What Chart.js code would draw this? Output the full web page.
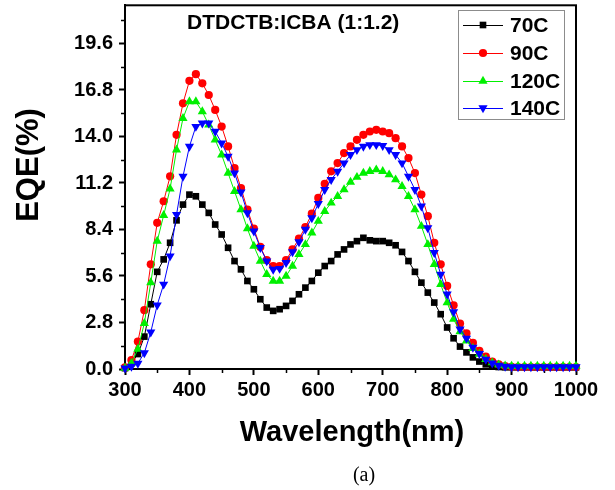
<!DOCTYPE html>
<html>
<head>
<meta charset="utf-8">
<title>EQE spectra</title>
<script src="https://cdn.jsdelivr.net/npm/chart.js@4.4.1/dist/chart.umd.min.js"></script>
<style>
  html, body { margin: 0; padding: 0; background: #fff; }
  canvas { display: block; }
</style>
</head>
<body>
<canvas id="eqe" width="615" height="490"></canvas>
<script>
// Wavelength grid (nm)
const wavelengths = [
  300, 310, 320, 330, 340, 350, 360, 370, 380, 390,
  400, 410, 420, 430, 440, 450, 460, 470, 480, 490,
  500, 510, 520, 530, 540, 550, 560, 570, 580, 590,
  600, 610, 620, 630, 640, 650, 660, 670, 680, 690,
  700, 710, 720, 730, 740, 750, 760, 770, 780, 790,
  800, 810, 820, 830, 840, 850, 860, 870, 880, 890,
  900, 910, 920, 930, 940, 950, 960, 970, 980, 990,
  1000
];

// EQE (%) for each annealing temperature
const eqe70C = [
  0.05, 0.35, 0.9, 1.95, 3.9, 5.85, 6.6, 7.6, 8.95, 9.9,
  10.5, 10.4, 9.9, 9.4, 8.7, 8.1, 7.3, 6.5, 6.0, 5.3,
  4.8, 4.2, 3.7, 3.5, 3.6, 3.8, 4.1, 4.5, 4.9, 5.3,
  5.8, 6.2, 6.5, 6.9, 7.2, 7.5, 7.7, 7.9, 7.75, 7.7,
  7.7, 7.6, 7.45, 7.05, 6.5, 5.85, 5.2, 4.6, 4.0, 3.3,
  2.5, 1.85, 1.35, 1.0, 0.7, 0.45, 0.28, 0.18, 0.12, 0.1,
  0.1, 0.1, 0.1, 0.1, 0.1, 0.1, 0.1, 0.1, 0.1, 0.1,
  0.1
];
const eqe90C = [
  0.1, 0.54, 1.65, 3.54, 6.3, 8.8, 10.1, 11.6, 14.1, 16.0,
  17.35, 17.75, 17.2, 16.5, 15.6, 14.6, 13.4, 12.1, 10.9, 9.6,
  8.45, 7.35, 6.55, 6.2, 6.2, 6.55, 7.2, 7.85, 8.55, 9.35,
  10.3, 11.15, 11.9, 12.4, 13.0, 13.4, 13.8, 14.1, 14.3, 14.4,
  14.3, 14.2, 13.9, 13.4, 12.7, 11.8, 10.5, 9.2, 7.6, 6.3,
  5.0, 3.84, 2.74, 2.15, 1.58, 1.1, 0.74, 0.45, 0.28, 0.18,
  0.13, 0.12, 0.12, 0.12, 0.12, 0.12, 0.12, 0.12, 0.12, 0.12,
  0.12
];
const eqe120C = [
  0.05, 0.35, 1.2, 2.75, 5.2, 7.7, 9.25, 10.85, 13.2, 15.1,
  16.1, 16.1, 15.5, 14.7, 13.8, 12.9, 11.8, 10.7, 9.6, 8.45,
  7.4, 6.5, 5.7, 5.3, 5.3, 5.6, 6.2, 6.9, 7.5, 8.2,
  8.9, 9.5, 10.0, 10.4, 10.8, 11.25, 11.55, 11.8, 11.9, 12.0,
  11.9, 11.7, 11.4, 11.0, 10.4, 9.6, 8.6, 7.5, 6.3, 5.1,
  4.0, 3.0, 2.25, 1.7, 1.25, 0.9, 0.58, 0.38, 0.26, 0.2,
  0.18, 0.18, 0.18, 0.18, 0.18, 0.18, 0.18, 0.18, 0.18, 0.18,
  0.18
];
const eqe140C = [
  0.05, 0.15, 0.34, 0.97, 2.22, 3.85, 5.1, 6.8, 9.3, 11.6,
  13.4, 14.6, 14.8, 14.8, 14.3, 13.6, 12.8, 11.8, 10.65, 9.4,
  8.3, 7.3, 6.5, 6.0, 6.05, 6.4, 7.05, 7.65, 8.4, 9.1,
  9.95, 10.8, 11.4, 11.9, 12.4, 12.9, 13.2, 13.4, 13.5, 13.5,
  13.45, 13.2, 12.9, 12.4, 11.6, 10.8, 9.8, 8.5, 7.0, 5.7,
  4.5, 3.44, 2.4, 1.85, 1.3, 0.92, 0.58, 0.35, 0.22, 0.16,
  0.13, 0.13, 0.13, 0.13, 0.13, 0.13, 0.13, 0.13, 0.13, 0.13,
  0.13
];

const seriesNames = ['70C', '90C', '120C', '140C'];
const seriesValues = [eqe70C, eqe90C, eqe120C, eqe140C];

// Axis ticks
const xMajorTicks = [300, 400, 500, 600, 700, 800, 900, 1000];
const xMinorTicks = [350, 450, 550, 650, 750, 850, 950];
const yMajorTicks = [0, 2.8, 5.6, 8.4, 11.2, 14.0, 16.8, 19.6];
const yMinorTicks = [1.4, 4.2, 7.0, 9.8, 12.6, 15.4, 18.2, 21.0];

const chartTitle = 'DTDCTB:ICBA (1:1.2)';
const xTitle = 'Wavelength(nm)';
const yTitle = 'EQE(%)';
const caption = '(a)';

// Styling
const SANS = "'Liberation Sans', Arial, Helvetica, sans-serif";
const SERIF = "'Liberation Serif', 'Times New Roman', serif";
const seriesColors = ['#000000', '#ff0000', '#00f000', '#0000ff'];
const seriesMarkers = ['rect', 'circle', 'triangle', 'triangle'];
const markerRotation = [0, 0, 0, 180];
const markerRadius = [4.7, 4.1, 5.3, 5.3];
const drawOrder = [4, 3, 2, 1];

const datasets = seriesValues.map((vals, i) => ({
  label: seriesNames[i],
  data: wavelengths.map((w, j) => ({ x: w, y: vals[j] })),
  borderColor: seriesColors[i],
  backgroundColor: seriesColors[i],
  borderWidth: 1,
  pointStyle: seriesMarkers[i],
  pointRotation: markerRotation[i],
  pointRadius: markerRadius[i],
  pointBorderWidth: 0,
  pointBackgroundColor: seriesColors[i],
  tension: 0,
  clip: false,
  order: drawOrder[i]
}));

function drawMarker(ctx, style, x, y, r, rot, color) {
  ctx.save();
  ctx.fillStyle = color;
  ctx.translate(x, y);
  ctx.rotate(rot * Math.PI / 180);
  ctx.beginPath();
  if (style === 'rect') {
    const s = r * Math.SQRT1_2;
    ctx.rect(-s, -s, 2 * s, 2 * s);
  } else if (style === 'circle') {
    ctx.arc(0, 0, r, 0, Math.PI * 2);
  } else {
    for (let k = 0; k < 3; k++) {
      const a = k * 2 * Math.PI / 3;
      const px = Math.sin(a) * r, py = -Math.cos(a) * r;
      if (k === 0) ctx.moveTo(px, py); else ctx.lineTo(px, py);
    }
    ctx.closePath();
  }
  ctx.fill();
  ctx.restore();
}

// Frame, minor ticks, titles and the boxed legend
const decorations = {
  id: 'decorations',
  beforeDatasetsDraw(chart) {
    const { ctx, chartArea: a, scales: { x, y } } = chart;
    ctx.save();
    ctx.strokeStyle = '#000';
    ctx.lineWidth = 2;
    ctx.strokeRect(a.left, a.top, a.right - a.left, a.bottom - a.top);
    ctx.lineWidth = 1.5;
    ctx.beginPath();
    xMinorTicks.forEach(v => {
      const px = Math.round(x.getPixelForValue(v)) + 0.5;
      ctx.moveTo(px, a.bottom);
      ctx.lineTo(px, a.bottom + 4);
    });
    yMinorTicks.forEach(v => {
      const py = Math.round(y.getPixelForValue(v)) + 0.5;
      ctx.moveTo(a.left - 4, py);
      ctx.lineTo(a.left, py);
    });
    ctx.stroke();
    ctx.restore();
  },
  afterDraw(chart) {
    const { ctx } = chart;
    ctx.save();
    ctx.fillStyle = '#000';

    ctx.font = `bold 21px ${SANS}`;
    ctx.textAlign = 'left';
    ctx.textBaseline = 'middle';
    ctx.fillText(chartTitle, 187, 23);

    ctx.font = `bold 29px ${SANS}`;
    ctx.textAlign = 'center';
    ctx.fillText(xTitle, 352, 433);

    ctx.save();
    ctx.translate(29, 165);
    ctx.rotate(-Math.PI / 2);
    ctx.font = `bold 31px ${SANS}`;
    ctx.fillText(yTitle, 0, 0);
    ctx.restore();

    ctx.font = `20px ${SERIF}`;
    ctx.fillText(caption, 364, 476);

    // legend box
    const box = { left: 458, top: 10, width: 106, height: 109 };
    ctx.fillStyle = '#fff';
    ctx.fillRect(box.left, box.top, box.width, box.height);
    ctx.strokeStyle = '#8c8c8c';
    ctx.lineWidth = 1;
    ctx.strokeRect(box.left + 0.5, box.top + 0.5, box.width, box.height);
    const rows = [25, 53, 81, 108];
    ctx.font = `bold 21px ${SANS}`;
    ctx.textAlign = 'left';
    ctx.textBaseline = 'middle';
    seriesNames.forEach((name, i) => {
      const yy = rows[i];
      ctx.strokeStyle = seriesColors[i];
      ctx.beginPath();
      ctx.moveTo(463, yy + 0.5);
      ctx.lineTo(503, yy + 0.5);
      ctx.stroke();
      drawMarker(ctx, seriesMarkers[i], 483, yy, markerRadius[i], markerRotation[i], seriesColors[i]);
      ctx.fillStyle = '#000';
      ctx.fillText(name, 510, yy + 1);
    });
    ctx.restore();
  }
};

new Chart(document.getElementById('eqe'), {
  type: 'line',
  data: { datasets },
  options: {
    responsive: false,
    animation: false,
    devicePixelRatio: 1,
    layout: { padding: { left: 0, right: 39, top: 4, bottom: 0 } },
    plugins: {
      legend: { display: false },
      tooltip: { enabled: false },
      title: { display: false }
    },
    scales: {
      x: {
        type: 'linear',
        min: 300,
        max: 1000,
        afterBuildTicks: s => { s.ticks = xMajorTicks.map(v => ({ value: v })); },
        afterFit: s => { s.height = 121; s.paddingLeft = 0; s.paddingRight = 0; },
        grid: { drawOnChartArea: false, drawTicks: true, tickLength: 6, tickWidth: 2, tickColor: '#000' },
        border: { display: true, color: '#000', width: 2 },
        ticks: {
          color: '#000',
          font: { family: SANS, size: 20, weight: 'bold' },
          padding: 3,
          maxRotation: 0,
          autoSkip: false,
          callback: v => String(v)
        }
      },
      y: {
        type: 'linear',
        min: 0,
        max: 21.9,
        afterBuildTicks: s => { s.ticks = yMajorTicks.map(v => ({ value: v })); },
        afterFit: s => { s.width = 125; s.paddingTop = 0; s.paddingBottom = 0; },
        grid: { drawOnChartArea: false, drawTicks: true, tickLength: 6, tickWidth: 2, tickColor: '#000' },
        border: { display: true, color: '#000', width: 2 },
        ticks: {
          color: '#000',
          font: { family: SANS, size: 20, weight: 'bold' },
          padding: 6,
          autoSkip: false,
          callback: v => Number(v).toFixed(1)
        }
      }
    }
  },
  plugins: [decorations]
});
</script>
</body>
</html>
